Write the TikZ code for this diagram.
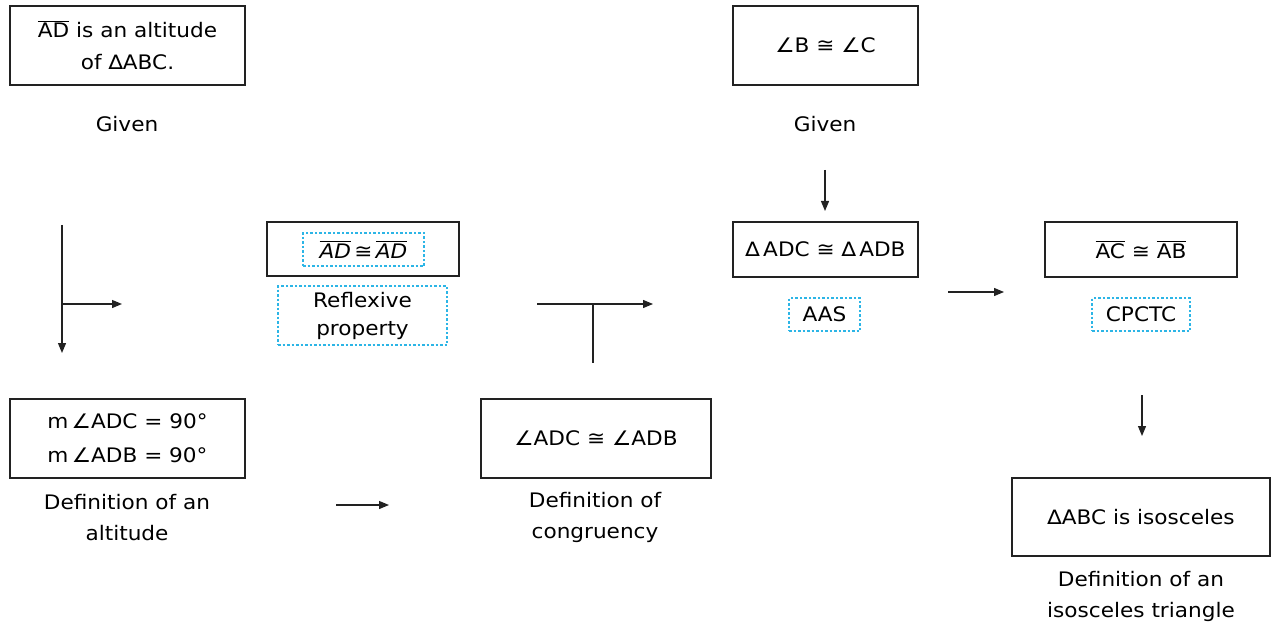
\documentclass[tikz,border=0pt]{standalone}
\usepackage{fontspec}
\setmainfont{DejaVu Sans}[FakeStretch=1.08]
\usetikzlibrary{arrows.meta}
\definecolor{ln}{HTML}{222222}
\definecolor{cy}{HTML}{2CB5E6}
\newcommand{\ov}[1]{\vbox{\hrule height 1.1pt\kern1.4pt\hbox{#1}}}
\tikzset{
  box/.style={draw=ln, line width=1.3pt, inner sep=0pt, align=center},
  dbox/.style={draw=cy, line width=1.1pt, dash pattern=on 2.5pt off 2pt, inner sep=0pt, align=center},
  lbl/.style={inner sep=0pt, align=center},
  arr/.style={draw=ln, line width=1.2pt, -{Triangle[length=10pt,width=8pt]}},
  plain/.style={draw=ln, line width=1.2pt}
}
\begin{document}
\begin{tikzpicture}[x=1pt,y=-1pt,font=\fontsize{20}{31}\selectfont]
\useasboundingbox[fill=white] (0,0) rectangle (1273,628);
% column 1
\node[box, minimum width=235, minimum height=79, font=\fontsize{20}{32}\selectfont] (b1) at (127.5,45.5) {\ov{AD} is an altitude\\of ∆ABC.};
\node[lbl] (g1) at (127,124) {Given};
\coordinate (l1) at (62,225);
\coordinate (l2) at (62,353);
\coordinate (l3) at (62,304);
\coordinate (l4) at (122,304);
\draw[arr] (l1) -- (l2);
\draw[arr] (l3) -- (l4);
\node[box, minimum width=235, minimum height=79, font=\fontsize{20}{34}\selectfont] (b2) at (127.5,438.5) {m\,∠ADC = 90°\\m\,∠ADB = 90°};
\node[lbl] (g2) at (127,517.5) {Definition of an\\altitude};
\coordinate (a1) at (336,505);
\coordinate (a2) at (389,505);
\draw[arr] (a1) -- (a2);
% reflexive
\node[box, minimum width=192, minimum height=54] (b3) at (363,249) {};
\node[dbox, minimum width=121, minimum height=33] (d3) at (363.5,249.5) {\itshape\ov{AD}\,≅\,\ov{AD}};
\node[dbox, minimum width=169, minimum height=59, font=\fontsize{20}{28}\selectfont] (d4) at (362.5,315.5) {Reflexive\\property};
% T connector
\coordinate (t1) at (537,304);
\coordinate (t2) at (653,304);
\coordinate (t3) at (593,304);
\coordinate (t4) at (593,363);
\draw[arr] (t1) -- (t2);
\draw[plain] (t3) -- (t4);
\node[box, minimum width=230, minimum height=79] (b4) at (596,438.5) {∠ADC ≅ ∠ADB};
\node[lbl] (g4) at (595,517.5) {Definition of\\congruency};
% column 3
\node[box, minimum width=185, minimum height=79] (b5) at (825.5,45.5) {∠B ≅ ∠C};
\node[lbl] (g5) at (825,124) {Given};
\coordinate (c1) at (825,170);
\coordinate (c2) at (825,211);
\draw[arr] (c1) -- (c2);
\node[box, minimum width=185, minimum height=55] (b6) at (825.5,249.5) {∆\,ADC ≅ ∆\,ADB};
\node[dbox, minimum width=71, minimum height=33] (d6) at (824.5,314.5) {AAS};
\coordinate (e1) at (948,292);
\coordinate (e2) at (1004,292);
\draw[arr] (e1) -- (e2);
% column 4
\node[box, minimum width=192, minimum height=55] (b7) at (1141,249.5) {\ov{AC} ≅ \ov{AB}};
\node[dbox, minimum width=98, minimum height=33] (d7) at (1141,314.5) {CPCTC};
\coordinate (f1) at (1142,395);
\coordinate (f2) at (1142,436);
\draw[arr] (f1) -- (f2);
\node[box, minimum width=258, minimum height=78] (b8) at (1141,517) {∆ABC is isosceles};
\node[lbl] (g8) at (1141,596.5) {Definition of an\\isosceles triangle};
\end{tikzpicture}
\end{document}
